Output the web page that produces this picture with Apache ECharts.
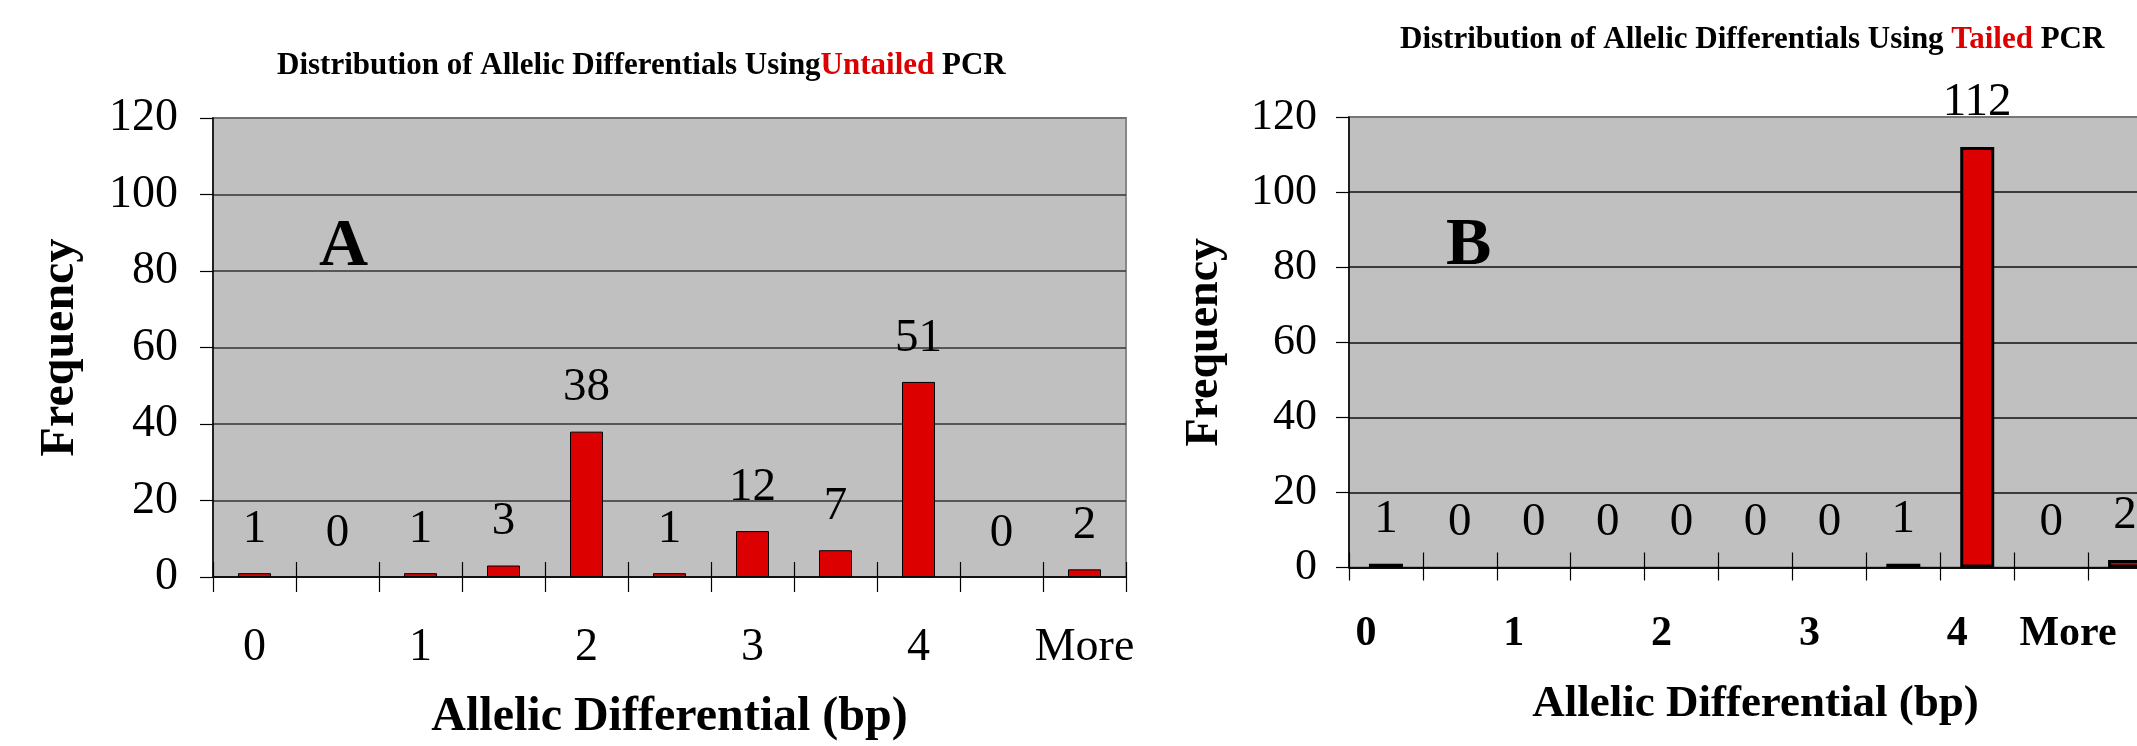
<!DOCTYPE html>
<html>
<head>
<meta charset="utf-8">
<script src="https://cdn.jsdelivr.net/npm/echarts@6/dist/echarts.min.js"></script>
<style>
html,body{margin:0;padding:0;background:#fff;}
#c{width:2137px;height:746px;}
</style>
</head>
<body>
<div id="c"></div>
<script>
// ---- data ----
const binLabels = ['0', '', '1', '', '2', '', '3', '', '4', '', 'More'];
const untailedFreq = [1, 0, 1, 3, 38, 1, 12, 7, 51, 0, 2];
const tailedFreq = [1, 0, 0, 0, 0, 0, 0, 1, 112, 0, 2];
const yMin = 0, yMax = 120, yStep = 20;
const titleA = ['Distribution of Allelic Differentials Using', 'Untailed', ' PCR'];
const titleB = ['Distribution of Allelic Differentials Using ', 'Tailed', ' PCR'];
const xName = 'Allelic Differential (bp)';
const yName = 'Frequency';

// ---- styling ----
const FF = "'Liberation Serif', 'Times New Roman', serif";
const RED = '#DD0000';

const chart = echarts.init(document.getElementById('c'));

function titleRich(parts) {
  return '{b|' + parts[0] + '}{r|' + parts[1] + '}{b|' + parts[2] + '}';
}
const titleTextStyle = {
  rich: {
    b: {fontFamily: FF, fontWeight: 'bold', fontSize: 31, color: '#000', lineHeight: 36},
    r: {fontFamily: FF, fontWeight: 'bold', fontSize: 31, color: RED, lineHeight: 36}
  }
};

// zero-height bars show no outline (only their value label)
function barData(values) {
  return values.map(function (v) {
    return v === 0 ? {value: v, itemStyle: {borderWidth: 0}} : v;
  });
}

function yAxisCfg(gridIndex, labelSize, margin, nameSize, nameGap, gridColor, topColor) {
  return {
    type: 'value', gridIndex: gridIndex, min: yMin, max: yMax, interval: yStep,
    name: yName, nameLocation: 'middle', nameRotate: 90, nameGap: nameGap,
    nameTextStyle: {fontFamily: FF, fontWeight: 'bold', fontSize: nameSize, color: '#000'},
    axisLine: {show: true, lineStyle: {color: '#000', width: 1.5}},
    axisTick: {show: true, length: 13, lineStyle: {color: '#000', width: 1.2}},
    axisLabel: {fontFamily: FF, fontSize: labelSize, color: '#000', margin: margin},
    splitLine: {show: true, lineStyle: {color: [gridColor, gridColor, gridColor, gridColor, gridColor, gridColor, topColor], width: 1.5}}
  };
}

const option = {
  backgroundColor: '#fff',
  animation: false,
  title: [
    {text: titleRich(titleA), left: 277, top: 48, padding: 0, textStyle: titleTextStyle},
    {text: titleRich(titleB), left: 1400, top: 22, padding: 0, textStyle: titleTextStyle},
    {text: 'A', left: 319, top: 213, padding: 0,
     textStyle: {fontFamily: FF, fontWeight: 'bold', fontSize: 68, lineHeight: 68, color: '#000'}},
    {text: 'B', left: 1446, top: 212, padding: 0,
     textStyle: {fontFamily: FF, fontWeight: 'bold', fontSize: 68, lineHeight: 68, color: '#000'}}
  ],
  grid: [
    {left: 213, top: 118, width: 913, height: 459, show: true, backgroundColor: '#C0C0C0',
     borderColor: '#888', borderWidth: 2, containLabel: false, outerBoundsMode: 'none'},
    {left: 1349, top: 117, width: 813, height: 450.5, show: true, backgroundColor: '#C0C0C0',
     borderColor: '#777', borderWidth: 2, containLabel: false, outerBoundsMode: 'none'}
  ],
  xAxis: [
    {
      type: 'category', gridIndex: 0, position: 'bottom', data: binLabels, boundaryGap: true,
      name: xName, nameLocation: 'middle', nameGap: 117,
      nameTextStyle: {fontFamily: FF, fontWeight: 'bold', fontSize: 48, color: '#000'},
      axisLine: {show: true, lineStyle: {color: '#000', width: 1.5}},
      axisTick: {show: true, interval: 0, length: 15, alignWithLabel: false, lineStyle: {color: '#000', width: 1.2}},
      axisLabel: {interval: 0, fontFamily: FF, fontSize: 46, color: '#000', margin: 48, hideOverlap: false},
      splitLine: {show: false}
    },
    {
      type: 'category', gridIndex: 0, position: 'bottom', data: binLabels, boundaryGap: true,
      axisLine: {show: false},
      axisTick: {show: true, inside: true, interval: 0, length: 15, lineStyle: {color: '#000', width: 1.2}},
      axisLabel: {show: false}, splitLine: {show: false}
    },
    {
      type: 'category', gridIndex: 1, position: 'bottom', data: binLabels, boundaryGap: true,
      name: xName, nameLocation: 'middle', nameGap: 114,
      nameTextStyle: {fontFamily: FF, fontWeight: 'bold', fontSize: 45, color: '#000'},
      axisLine: {show: true, lineStyle: {color: '#000', width: 1.5}},
      axisTick: {show: true, interval: 0, length: 13, alignWithLabel: false, lineStyle: {color: '#000', width: 1.2}},
      axisLabel: {
        interval: 0, margin: 46, hideOverlap: false,
        formatter: function (v) {
          if (v === '') return '';
          return v === 'More' ? '{m|' + v + '}' : '{d|' + v + '}';
        },
        rich: {
          d: {fontFamily: FF, fontWeight: 'bold', fontSize: 42, color: '#000', padding: [0, 40, 0, 0]},
          m: {fontFamily: FF, fontWeight: 'bold', fontSize: 42, color: '#000', padding: [0, 114, 0, 0]}
        }
      },
      splitLine: {show: false}
    },
    {
      type: 'category', gridIndex: 1, position: 'bottom', data: binLabels, boundaryGap: true,
      axisLine: {show: false},
      axisTick: {show: true, inside: true, interval: 0, length: 15, lineStyle: {color: '#000', width: 1.2}},
      axisLabel: {show: false}, splitLine: {show: false}
    }
  ],
  yAxis: [
    yAxisCfg(0, 46, 35, 48, 128, '#333', '#6a6a6a'),
    yAxisCfg(1, 44, 32, 46, 121, '#111', '#777')
  ],
  series: [
    {
      type: 'bar', xAxisIndex: 0, yAxisIndex: 0, data: barData(untailedFreq), barWidth: 33,
      itemStyle: {color: RED, borderColor: '#000', borderWidth: 1},
      label: {show: true, position: 'top', distance: 20, fontFamily: FF, fontSize: 47, color: '#000'}
    },
    {
      type: 'bar', xAxisIndex: 2, yAxisIndex: 1, data: barData(tailedFreq), barWidth: 34,
      itemStyle: {color: RED, borderColor: '#000', borderWidth: 3},
      label: {show: true, position: 'top', distance: 21, fontFamily: FF, fontSize: 47, color: '#000'}
    }
  ]
};
chart.setOption(option);
</script>
</body>
</html>
